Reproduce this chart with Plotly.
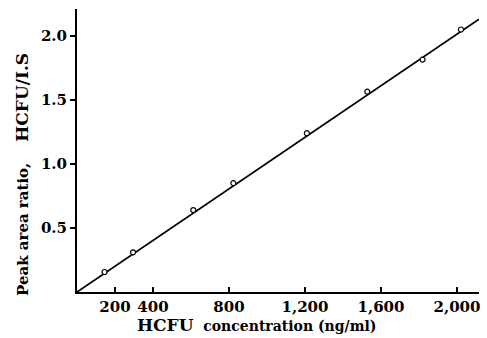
import plotly.graph_objects as go

conc = [145, 295, 612, 823, 1210, 1528, 1819, 2021]
ratio = [0.156, 0.31, 0.64, 0.85, 1.24, 1.565, 1.815, 2.05]
line_x = [0, 2116]
line_y = [0, 2.13]
x_ticks = [200, 400, 800, 1200, 1600, 2000]
x_labels = ["200", "400", "800", "1,200", "1,600", "2,000"]
y_ticks = [0.5, 1.0, 1.5, 2.0]
y_labels = ["0.5", "1.0", "1.5", "2.0"]

FONT = "DejaVu Serif"

fig = go.Figure()
fig.add_trace(go.Scatter(x=line_x, y=line_y, mode="lines",
                         line=dict(color="black", width=1.8), showlegend=False))
fig.add_trace(go.Scatter(x=conc, y=ratio, mode="markers",
                         marker=dict(symbol="circle", size=5, color="white",
                                     line=dict(color="black", width=1.2)),
                         showlegend=False))

fig.update_layout(
    width=487, height=338,
    margin=dict(l=77, r=8, t=9, b=46),
    paper_bgcolor="white", plot_bgcolor="white",
    font=dict(family=FONT, color="black"),
    xaxis=dict(range=[0, 2116], tickvals=x_ticks, ticktext=x_labels,
               showgrid=False, zeroline=False, showline=True,
               linecolor="black", linewidth=2, ticks="inside", ticklen=5,
               tickwidth=1.5, tickcolor="black",
               tickfont=dict(family=FONT, size=15, weight="bold")),
    yaxis=dict(range=[0, 2.21], tickvals=y_ticks, ticktext=y_labels,
               showgrid=False, zeroline=False, showline=True,
               linecolor="black", linewidth=2, ticks="outside", ticklen=5,
               tickwidth=1.5, tickcolor="black",
               tickfont=dict(family=FONT, size=15, weight="bold")),
    annotations=[
        dict(text="<span style='font-size:17px'>HCFU</span>  concentration (ng/ml)",
             xref="paper", yref="paper",
             x=(256 - 77) / 402, y=-(325 - 292) / 283, xanchor="center",
             yanchor="middle", showarrow=False,
             font=dict(family=FONT, size=14, weight="bold")),
        dict(text="Peak area ratio,    <span style='font-size:17px'>HCFU/I.S</span>",
             xref="paper", yref="paper",
             x=-(77 - 22) / 402, y=(292 - 175) / 283, xanchor="center",
             yanchor="middle", textangle=-90, showarrow=False,
             font=dict(family=FONT, size=15, weight="bold")),
    ],
)

fig.write_html("out.html")
